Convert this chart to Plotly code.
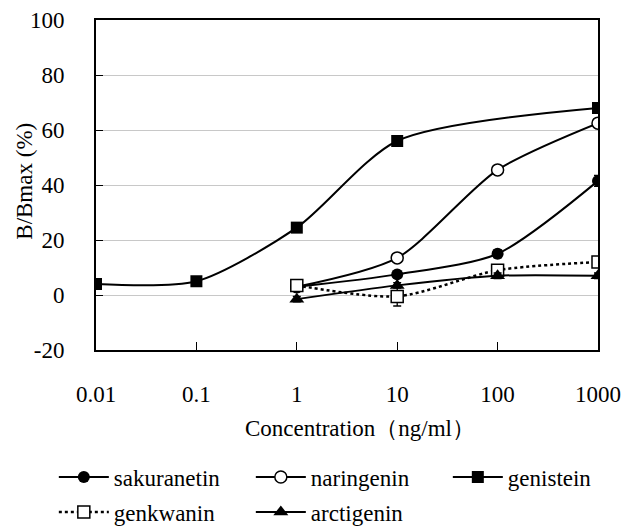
import plotly.graph_objects as go

# ---- data ----
conc_full = [0.01, 0.1, 1, 10, 1000]
conc = [1, 10, 100, 1000]

genistein = [4, 5, 24.5, 56, 68]
genistein_err = [1.5, 1, 1, 1, 1.5]
sakuranetin = [3, 7.5, 15, 41.5]
sakuranetin_err = [0.5, 1, 1.5, 2]
naringenin = [3, 13.5, 45.5, 62.5]
naringenin_err = [0.5, 1.5, 1.5, 1]
genkwanin = [3.5, -0.5, 9, 12]
genkwanin_err = [1, 3.5, 1.5, 1]
arctigenin = [-1.5, 3.5, 7, 7]
arctigenin_err = [1, 1, 1, 1]

x_ticks = [0.01, 0.1, 1, 10, 100, 1000]
x_ticklabels = ["0.01", "0.1", "1", "10", "100", "1000"]
y_ticks = [-20, 0, 20, 40, 60, 80, 100]
y_ticklabels = ["-20", "0", "20", "40", "60", "80", "100"]

FONT = "Liberation Serif"
FS = 23

def err(arr):
    return dict(type="data", array=arr, visible=True, color="black", thickness=1.3, width=4)

fig = go.Figure()

common_line = dict(color="black", width=2, shape="spline", smoothing=0.75)

fig.add_trace(go.Scatter(x=conc, y=sakuranetin, name="sakuranetin", mode="lines+markers",
                         line=common_line, marker=dict(symbol="circle", size=12, color="black"),
                         error_y=err(sakuranetin_err), legend="legend"))
fig.add_trace(go.Scatter(x=conc, y=naringenin, name="naringenin", mode="lines+markers",
                         line=common_line,
                         marker=dict(symbol="circle", size=12, color="white", line=dict(color="black", width=1.5)),
                         error_y=err(naringenin_err), legend="legend"))
fig.add_trace(go.Scatter(x=conc_full, y=genistein, name="genistein", mode="lines+markers",
                         line=common_line, marker=dict(symbol="square", size=12, color="black"),
                         error_y=err(genistein_err), legend="legend"))
fig.add_trace(go.Scatter(x=conc, y=genkwanin, name="genkwanin", mode="lines+markers",
                         line=dict(color="black", width=2.5, dash="dot", shape="spline", smoothing=0.75),
                         marker=dict(symbol="square", size=12, color="white", line=dict(color="black", width=1.5)),
                         error_y=err(genkwanin_err), legend="legend2"))
fig.add_trace(go.Scatter(x=conc, y=arctigenin, name="arctigenin", mode="lines+markers",
                         line=common_line,
                         marker=dict(symbol="triangle-up", size=13, color="black"),
                         error_y=err(arctigenin_err), legend="legend2"))

legend_common = dict(orientation="h", xanchor="left", yanchor="middle",
                     font=dict(family=FONT, size=FS, color="black"),
                     bgcolor="rgba(0,0,0,0)", itemwidth=50, entrywidth=132, entrywidthmode="pixels",
                     itemclick=False, itemdoubleclick=False)

fig.update_layout(
    width=624, height=530,
    margin=dict(l=96, r=26, t=20, b=180, autoexpand=False),
    paper_bgcolor="white", plot_bgcolor="white",
    font=dict(family=FONT, size=FS, color="black"),
    showlegend=True,
    legend=dict(x=-0.084, y=(350 - 477) / 330, **legend_common),
    legend2=dict(x=-0.084, y=(350 - 512) / 330, **legend_common),
    xaxis=dict(type="log", range=[-2, 3], tickvals=x_ticks, ticktext=x_ticklabels,
               ticks="inside", ticklen=8, tickcolor="black", tickwidth=1,
               showline=True, linecolor="black", linewidth=2, mirror=True,
               showgrid=False, zeroline=False, ticklabelstandoff=22, automargin=False,
               tickfont=dict(family=FONT, size=FS)),
    yaxis=dict(range=[-20, 100], tickvals=y_ticks, ticktext=y_ticklabels,
               ticks="inside", ticklen=7, tickcolor="black",
               showline=True, linecolor="black", linewidth=2, mirror=True,
               showgrid=True, gridcolor="#c8c8c8", gridwidth=1, zeroline=False,
               ticklabelstandoff=25, automargin=False,
               tickfont=dict(family=FONT, size=FS)),
    annotations=[
        dict(text="B/Bmax (%)", xref="paper", yref="paper",
             x=(25 - 96) / 502, y=0.51, textangle=-90, showarrow=False,
             xanchor="center", yanchor="middle",
             font=dict(family=FONT, size=FS, color="black")),
        dict(text="Concentration（ng/ml）", xref="paper", yref="paper",
             x=(360 - 96) / 502, y=(350 - 428) / 330, showarrow=False,
             xanchor="center", yanchor="middle",
             font=dict(family=FONT, size=FS, color="black")),
    ],
)

fig.write_html("out.html")
